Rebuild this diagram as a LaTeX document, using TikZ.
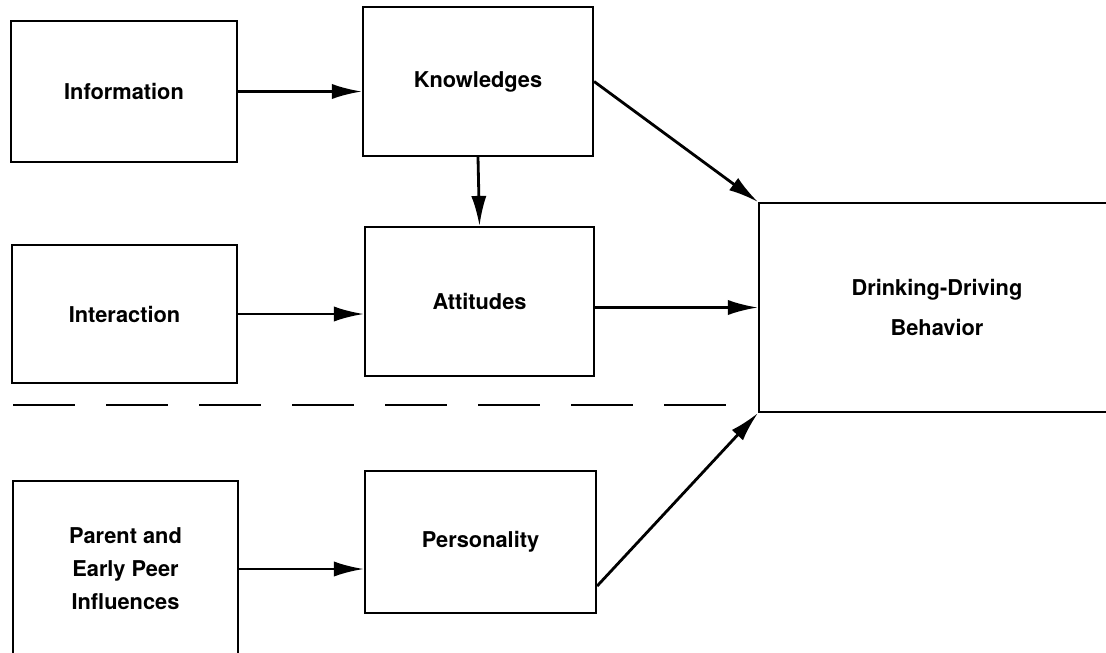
\documentclass[tikz,border=0pt]{standalone}
\usepackage{fontspec}
\setsansfont{TeX Gyre Heros}
\usepackage{tikz}
\usetikzlibrary{arrows.meta}
\tikzstyle{block}=[draw, line width=1.5pt, fill=white, align=center, inner sep=0]
\tikzstyle{sep}=[line width=1.3pt, dash pattern=on 1.55cm off 0.775cm]

\begin{document}
\begin{tikzpicture}[x=0.025cm,y=-0.025cm,>={Latex[length=7.5mm,width=3.8mm]},line width=2pt,
                    font=\sffamily\bfseries\fontsize{15.5}{23.5}\selectfont]

                    \useasboundingbox (0,0) rectangle (1106,652);

                    \node [block, minimum width=5.65cm, minimum height=3.525cm] (info) at (124,91.5) {Information};
                    \node [block, minimum width=5.75cm, minimum height=3.725cm] (know) at (478,81.5) {Knowledges};
                    \node [block, minimum width=5.625cm, minimum height=3.45cm] (inter) at (124.5,314) {Interaction};
                    \node [block, minimum width=5.725cm, minimum height=3.725cm] (att) at (479.5,301.5) {Attitudes};
                    \node [block, minimum width=8.9cm, minimum height=5.225cm,
                           font=\sffamily\bfseries\fontsize{15.5}{29}\selectfont] (beh) at (937,307.5) {Drinking-Driving\\Behavior};
                    \node [block, minimum width=5.625cm, minimum height=4.4cm] (parent) at (125.5,569) {Parent and\\Early Peer\\Influences};
                    \node [block, minimum width=5.775cm, minimum height=3.55cm] (pers) at (480.5,542) {Personality};

                    % separator
                    \draw [sep] (13,405) -- (731,405);

                    \draw [->] (info.east) -- (info.east -| know.west);
                    \draw [->] (know.south) -- (att.north);
                    \draw [->] (know.east) -- (beh.north west);
                    \draw [->] (inter.east) -- (inter.east -| att.west);
                    \draw [->] (att.east |- beh.west) -- (beh.west);
                    \draw [->] (parent.east -| parent.east) -- (parent.east -| pers.west);
                    \draw [->] ([yshift=0.7cm]pers.south east) -- (beh.south west);
                \end{tikzpicture}
\end{document}
